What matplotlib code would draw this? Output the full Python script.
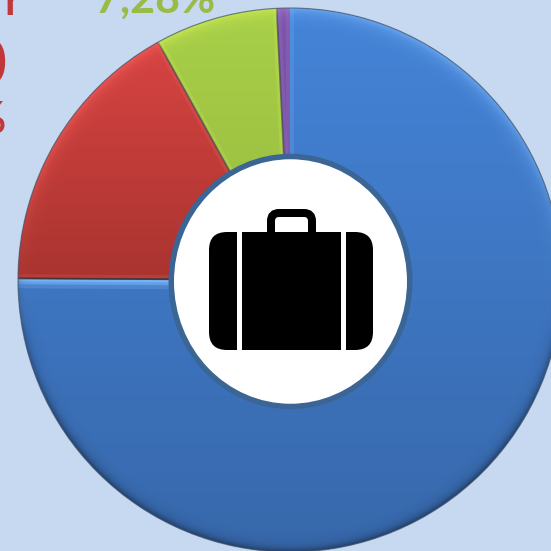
import numpy as np
import matplotlib
matplotlib.use("Agg")
import matplotlib.pyplot as plt
from matplotlib.colors import to_rgb
from matplotlib.patches import Ellipse, FancyBboxPatch, Circle, Rectangle

plt.rcParams["font.family"] = ["Lato", "DejaVu Sans"]

# slices, clockwise from the top
shares = [75.10, 16.84, 7.28, 0.78]
top_colors = ["#4584d8", "#d64442", "#a8d048", "#7e56ac"]
bottom_colors = ["#3768ab", "#a93430", "#98b93f", "#6e4a98"]
bevel_colors = ["#7fbcff", "#ff6460", "#d8f45a", "#a880d8"]

size = 551
cx, cy, radius = 290, size - 280, 272
background = "#c6d9f0"
red_text = "#c0383a"
green_text = "#9bbb47"


def ramp(top, bottom, n=256):
    a, b = np.array(to_rgb(top)), np.array(to_rgb(bottom))
    t = np.linspace(0, 1, n)[:, None, None]
    return a[None, None, :] * (1 - t) + b[None, None, :] * t


def radial_edge(ax, angle, clip, color, width, alpha=1.0):
    rad = np.deg2rad(angle)
    line, = ax.plot([cx, cx + radius * np.cos(rad)], [cy, cy + radius * np.sin(rad)],
                    color=color, lw=width * 0.72, alpha=alpha, solid_capstyle="butt", zorder=4)
    line.set_clip_path(clip)


fig = plt.figure(figsize=(size / 100, size / 100), dpi=100, facecolor=background)
ax = fig.add_axes([0, 0, 1, 1])
ax.set_facecolor(background)

wedges, _ = ax.pie(shares, colors=top_colors, startangle=90, counterclock=False,
                   center=(cx, cy), radius=radius, frame=True)

xx, yy = np.meshgrid(np.linspace(cx - radius, cx + radius, 545),
                     np.linspace(cy + radius, cy - radius, 545))
rr = np.hypot(xx - cx, yy - cy)
depth = np.clip(radius - rr, 0, None)
up = np.clip((yy - cy) / radius + 0.2, 0, 1) ** 0.6

for wedge, top, bottom, bevel in zip(wedges, top_colors, bottom_colors, bevel_colors):
    box = wedge.get_path().get_extents(wedge.get_patch_transform())
    im = ax.imshow(ramp(top, bottom), extent=(box.x0, box.x1, box.y0, box.y1),
                   aspect="auto", zorder=3, interpolation="bilinear")
    im.set_clip_path(wedge)
    # thin bevel along the straight edges
    radial_edge(ax, wedge.theta1, wedge, bevel, 8, 0.2)
    radial_edge(ax, wedge.theta2, wedge, bevel, 8, 0.2)
    # coloured light rim on the upper part of the ring
    rim = np.zeros(xx.shape + (4,))
    rim[..., :3] = to_rgb(bevel)
    rim[..., 3] = 0.6 * np.exp(-depth / 6.0) * up
    im = ax.imshow(rim, extent=(cx - radius, cx + radius, cy - radius, cy + radius),
                   aspect="auto", zorder=5)
    im.set_clip_path(wedge)

# the bright band under the red slice
for width, alpha in [(20, 0.25), (12, 0.45), (6, 0.6)]:
    radial_edge(ax, wedges[0].theta1, wedges[0], bevel_colors[0], width, alpha)

# separator shadows between slices
for wedge in wedges[1:]:
    radial_edge(ax, wedge.theta2, ax.patch, "#4a4f55", 1.8, 0.75)
radial_edge(ax, wedges[0].theta1, ax.patch, "#3a3030", 1.6, 0.8)

# dark shading along the lower rim
shade = np.zeros(xx.shape + (4,))
shade[..., 3] = 0.4 * np.exp(-depth / 4.0) * np.clip((cy - yy) / radius + 0.4, 0, 1)
disc = Circle((cx, cy), radius, transform=ax.transData)
im = ax.imshow(shade, extent=(cx - radius, cx + radius, cy - radius, cy + radius),
               aspect="auto", zorder=5)
im.set_clip_path(disc)

# dark outline of the ring
ax.add_patch(Circle((cx, cy), radius, fill=False, ec="#4a5a70", lw=0.9, alpha=0.7, zorder=6))

# hole
ax.add_patch(Ellipse((290.5, size - 281.5), 238.5, 250, fc="white", ec="#3a6595", lw=5.5 * 0.72, zorder=7))

# suitcase
ax.add_patch(FancyBboxPatch((271, size - 240), 41, 27, boxstyle="round,pad=0,rounding_size=8",
                            fc="none", ec="black", lw=8 * 0.72, zorder=8))
ax.add_patch(Rectangle((260, size - 262), 64, 30, fc="black", ec="none", zorder=9))
ax.add_patch(FancyBboxPatch((209 + 18, size - 350 + 18), 164 - 36, 118 - 36,
                            boxstyle="round,pad=18,rounding_size=18", fc="black", ec="none", zorder=9))
for strap_x, strap_w in [(237, 5), (341, 5)]:
    ax.add_patch(Rectangle((strap_x, size - 351), strap_w, 120, fc="white", ec="none", zorder=10))

# labels cut by the picture edge
ax.text(155, size - 13, "7,28%", color=green_text, fontsize=31, fontweight="bold",
        ha="center", va="baseline", zorder=2)
ax.text(20, size - 15, "r", color=red_text, fontsize=31, fontweight="bold", ha="right", va="baseline", zorder=2)
ax.text(6, size - 85, "0", color=red_text, fontsize=47, fontweight="bold", ha="right", va="baseline", zorder=2)
ax.text(6, size - 133, "%", color=red_text, fontsize=31, fontweight="bold", ha="right", va="baseline", zorder=2)

ax.set_xlim(0, size)
ax.set_ylim(0, size)
ax.set_aspect("auto")
ax.axis("off")

fig.savefig("out.png", dpi=100, facecolor=background)
